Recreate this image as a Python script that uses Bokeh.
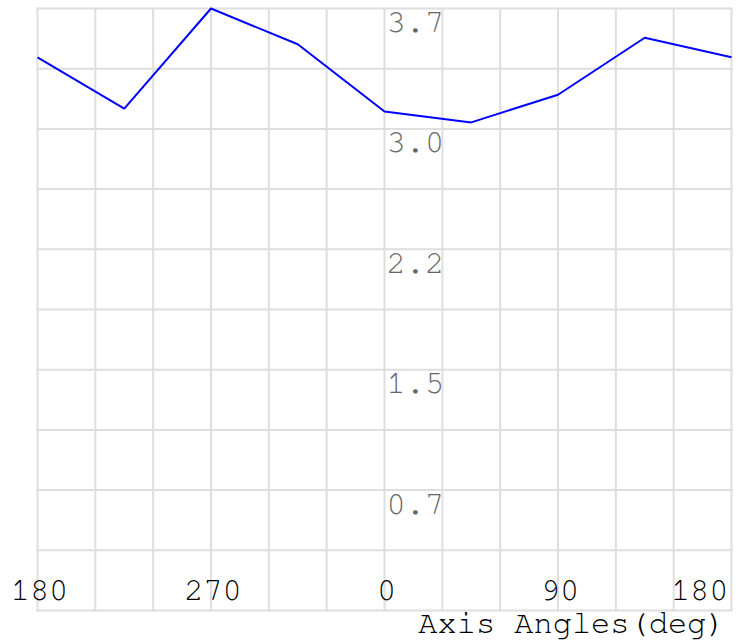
import numpy as np
from bokeh.plotting import figure
from bokeh.models import Range1d, ColumnDataSource
from bokeh.core.properties import value
from bokeh.embed import file_html
from bokeh.resources import INLINE

# data
angles = [180, 225, 270, 315, 0, 45, 90, 135, 180]
values = [3.40, 3.085, 3.70, 3.48, 3.067, 3.0, 3.17, 3.52, 3.40]
x_tick_angles = [180, 270, 0, 90, 180]
x_tick_labels = ["180", "270", "0", "90", "180"]
x_grid_step = 30
y_tick_values = [3.7, 2.96, 2.22, 1.48, 0.74]
y_tick_labels = ["3.7", "3.0", "2.2", "1.5", "0.7"]
y_max = 3.7
y_grid_count = 10
x_title = "Axis Angles(deg)"

FONT = value("'Nimbus Mono PS', 'FreeMono', 'Courier New', 'Liberation Mono', monospace")
FS = value("32px")

W, H = 743, 643
PL, PR, PT, PB = 37, 12, 8, 33  # plot-area borders in pixels

def unwrap(seq):
    out = np.rad2deg(np.unwrap(np.deg2rad(seq)))
    return list(out - seq[0])

xs = unwrap(angles)
xt = unwrap(x_tick_angles)
x_span = xt[-1]

sx = (W - PL - PR) / x_span      # px per degree
sy = (H - PT - PB) / y_max       # px per unit

p = figure(width=W, height=H, output_backend="svg", toolbar_location=None,
           x_axis_type=None, y_axis_type=None,
           x_range=Range1d(-PL / sx, x_span + PR / sx),
           y_range=Range1d(-PB / sy, y_max + PT / sy),
           min_border=0)
p.outline_line_color = None
p.xgrid.visible = False
p.ygrid.visible = False

# grid
gx = list(np.arange(0, x_span + 0.1, x_grid_step))
gy = list(np.linspace(0, y_max, y_grid_count + 1))
grid_col = "#dedede"
p.segment(x0=gx, y0=[0] * len(gx), x1=gx, y1=[y_max] * len(gx),
          line_color=grid_col, line_width=2, line_cap="square")
p.segment(x0=[0] * len(gy), y0=gy, x1=[x_span] * len(gy), y1=gy,
          line_color=grid_col, line_width=2, line_cap="square")

# data line
p.line(xs, values, line_color="#0000ff", line_width=2)

# x tick labels (inside bottom band)
n = len(xt)
xl_x = [x + (2 / sx if i < n - 1 else -3 / sx) for i, x in enumerate(xt)]
xl_align = ["center"] * (n - 1) + ["right"]
src_x = ColumnDataSource(dict(x=xl_x, y=[20 / sy] * n, t=x_tick_labels, a=xl_align))
p.text(x="x", y="y", text="t", text_align="a", source=src_x,
       text_font=FONT, text_font_size=FS, text_color="black",
       text_baseline="alphabetic")

# y tick labels (at the 0-degree line)
zero_x = xt[2]
src_y = ColumnDataSource(dict(x=[zero_x + 2 / sx] * len(y_tick_values),
                              y=[v - 14 / sy for v in y_tick_values], t=y_tick_labels))
p.text(x="x", y="y", text="t", source=src_y,
       text_font=FONT, text_font_size=FS, text_color="#666666",
       text_align="left", text_baseline="alphabetic")

# axis title
p.text(x=[x_span - 6 / sx], y=[-12 / sy], text=[x_title],
       text_font=FONT, text_font_size=FS, text_color="black",
       text_align="right", text_baseline="alphabetic")

open("out.html", "w").write(file_html(p, INLINE))
